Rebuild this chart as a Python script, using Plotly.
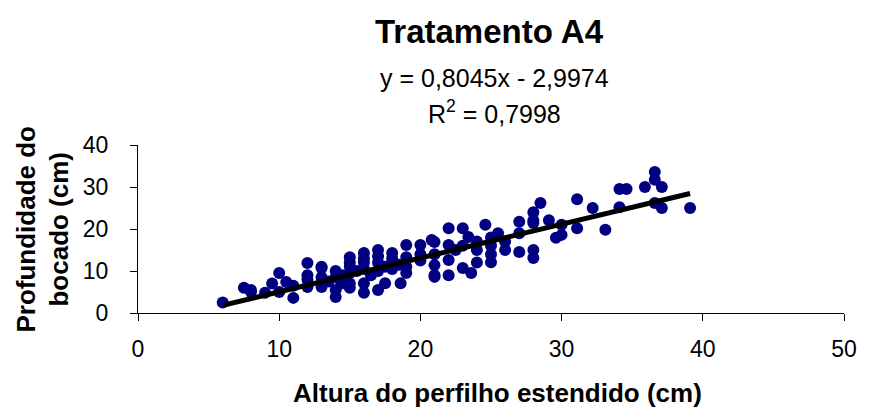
import plotly.graph_objects as go

altura = [6, 7.5, 8, 8, 9, 9.5, 10, 10, 10.5, 11, 11, 12, 12, 12, 12, 13, 13, 13, 13, 13.5,
          14, 14, 14, 14, 14.4, 14.5, 15, 15, 15, 15, 15, 15, 15.5, 16, 16, 16, 16, 16, 16, 16.5,
          17, 17, 17, 17, 17, 17.5, 17.5, 18, 18, 18, 18, 18.6, 18.5, 19, 19, 19, 19, 20, 20, 20,
          20.8, 21, 21, 21, 21, 21, 22, 22, 22, 22, 22.5, 23, 23, 23.6, 23.4, 23, 24, 24, 24, 24.6,
          25, 25, 25, 25.5, 25, 26, 26, 27, 27, 27, 28, 28, 28, 28, 28.5, 28, 29.1, 29.6, 30, 30,
          31.1, 31.1, 32.2, 33.1, 34.1, 34.6, 34.1, 35.9, 36.6, 36.6, 37.1, 36.6, 37.1, 39.1]
profundidade = [2.5, 6, 5.5, 5, 4.8, 7, 9.5, 5, 7.4, 3.6, 6.5, 11.9, 9, 6.2, 8, 10.7, 6.2, 11, 8.5, 7.5,
                3.8, 8.6, 10, 5.5, 7, 9, 13.3, 11, 9.5, 7, 6, 12, 10, 14.3, 4.8, 7.1, 12, 10.5, 13, 9,
                15, 5.5, 12, 10, 13.5, 7.1, 11, 14.3, 12, 10.5, 13, 7.1, 11.5, 16.2, 13.3, 11, 9.5, 16.2, 14, 12.5,
                17.4, 9, 16.9, 11.4, 8.6, 14, 20.2, 16.2, 12.6, 9, 15, 20.2, 10.7, 9.5, 18.1, 16, 12, 15, 17, 21,
                12.1, 16, 18, 19, 14, 15, 17, 21.7, 14.5, 19, 24, 21.4, 15, 13.1, 26.2, 22, 22.1, 17.9, 18.6, 21,
                27.1, 20.2, 25, 19.8, 29.5, 29.5, 25.2, 30, 33.6, 31.7, 30, 26.2, 25, 25]

slope = 0.8045
intercept = -2.9974
trend_x = [min(altura), max(altura)]
trend_y = [slope * v + intercept for v in trend_x]

x_ticks = [0, 10, 20, 30, 40, 50]
y_ticks = [0, 10, 20, 30, 40]

FONT = "Liberation Sans, Arial, sans-serif"

# page has an 8px body margin: figure is drawn at (8, 8)
OFF = 8
W, H = 869 - OFF, 410 - OFF
L, R, T, B = 138 - OFF, 21, 145 - OFF, 97
PW, PH = W - L - R, H - T - B


def px(x):  # reference page x -> paper
    return (x - OFF - L) / PW


def py(y):  # reference page y -> paper
    return (H - B - (y - OFF)) / PH


def note(text, x, y, size, angle=0):
    return dict(text=text, x=px(x), y=py(y), xref="paper", yref="paper",
                xanchor="center", yanchor="middle", showarrow=False,
                textangle=angle, font=dict(size=size))


fig = go.Figure()
fig.add_trace(go.Scatter(x=altura, y=profundidade, mode="markers",
                         marker=dict(color="#000080", size=12, line=dict(width=0)),
                         showlegend=False))
fig.add_trace(go.Scatter(x=trend_x, y=trend_y, mode="lines",
                         line=dict(color="black", width=5), showlegend=False))

axis_common = dict(showgrid=False, zeroline=False, showline=True, linecolor="black",
                   linewidth=1, ticks="outside", ticklen=7, tickcolor="black",
                   tickfont=dict(size=23))

fig.update_layout(
    width=W, height=H,
    margin=dict(l=L, r=R, t=T, b=B, pad=0),
    paper_bgcolor="white", plot_bgcolor="white",
    font=dict(family=FONT, color="black", size=18),
    xaxis=dict(range=[0, 50], tickvals=x_ticks, ticklabelstandoff=8, **axis_common),
    yaxis=dict(range=[0, 40], tickvals=y_ticks, ticklabelstandoff=17, **axis_common),
    annotations=[
        note("<b>Tratamento A4</b>", 491, 31, 33),
        note("y = 0,8045x - 2,9974", 497, 78, 25),
        note("R<sup>2</sup> = 0,7998", 497, 112, 25),
        note("<b>Altura do perfilho estendido (cm)</b>", 500, 393, 26),
        note("<b>Profundidade do<br>bocado (cm)</b>", 42, 229, 26, -90),
    ],
)

fig.write_html("out.html")
